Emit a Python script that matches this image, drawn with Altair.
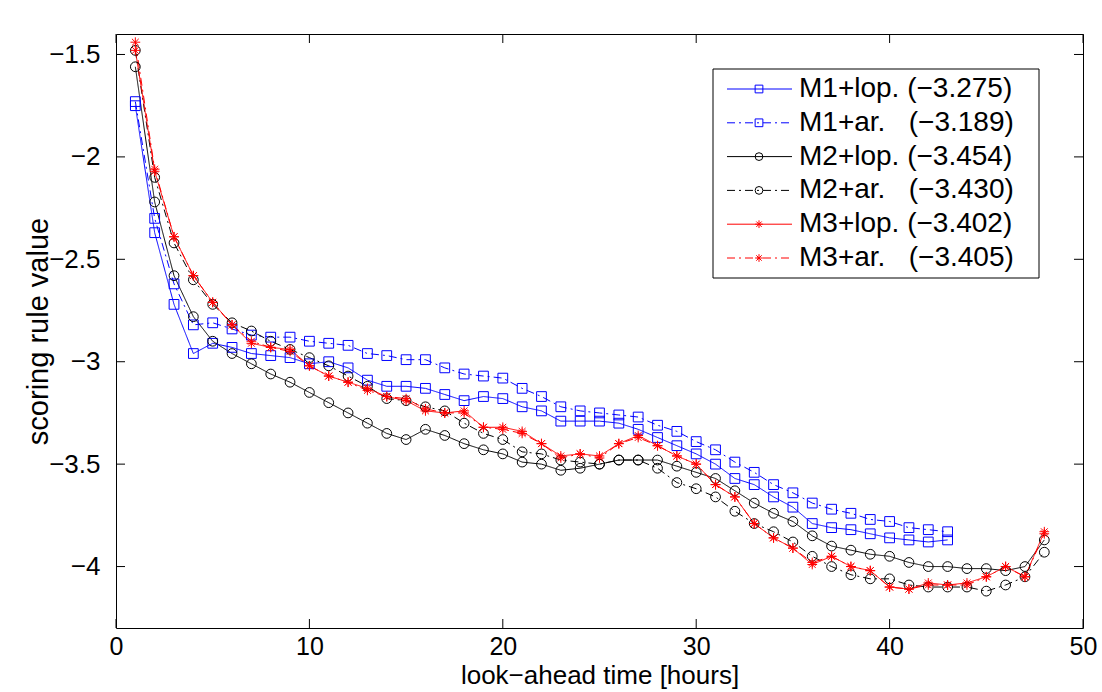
import altair as alt
import pandas as pd

# ---------------- data ----------------
hours_m1 = list(range(1, 44))
hours_m23 = list(range(1, 49))

m1_lop = [-1.75, -2.37, -2.72, -2.96, -2.91, -2.93, -2.96, -2.97, -2.98, -3.01,
          -3.00, -3.03, -3.09, -3.12, -3.12, -3.13, -3.16, -3.19, -3.17, -3.18,
          -3.22, -3.24, -3.29, -3.29, -3.29, -3.30, -3.33, -3.37, -3.41, -3.45,
          -3.50, -3.57, -3.60, -3.66, -3.71, -3.79, -3.81, -3.82, -3.84, -3.86,
          -3.87, -3.88, -3.87]
m1_ar = [-1.73, -2.30, -2.62, -2.82, -2.81, -2.84, -2.87, -2.88, -2.88, -2.90,
         -2.91, -2.92, -2.96, -2.97, -2.99, -2.99, -3.03, -3.06, -3.07, -3.08,
         -3.13, -3.17, -3.22, -3.24, -3.25, -3.26, -3.27, -3.31, -3.34, -3.39,
         -3.43, -3.49, -3.54, -3.60, -3.64, -3.69, -3.72, -3.74, -3.77, -3.78,
         -3.81, -3.82, -3.83]
m2_lop = [-1.56, -2.22, -2.58, -2.78, -2.90, -2.96, -3.01, -3.06, -3.10, -3.15,
          -3.20, -3.25, -3.30, -3.35, -3.38, -3.33, -3.36, -3.40, -3.43, -3.45,
          -3.49, -3.50, -3.53, -3.52, -3.50, -3.48, -3.48, -3.48, -3.51, -3.54,
          -3.57, -3.63, -3.69, -3.74, -3.78, -3.85, -3.90, -3.92, -3.94, -3.95,
          -3.98, -4.00, -4.00, -4.01, -4.01, -4.02, -4.00, -3.87]
m2_ar = [-1.48, -2.10, -2.42, -2.60, -2.72, -2.81, -2.85, -2.90, -2.94, -2.98,
         -3.02, -3.07, -3.12, -3.18, -3.19, -3.22, -3.24, -3.30, -3.35, -3.38,
         -3.44, -3.45, -3.48, -3.49, -3.50, -3.48, -3.48, -3.52, -3.59, -3.62,
         -3.66, -3.73, -3.79, -3.83, -3.88, -3.95, -4.00, -4.04, -4.06, -4.06,
         -4.09, -4.10, -4.10, -4.10, -4.12, -4.09, -4.05, -3.93]
m3_lop = [-1.48, -2.07, -2.39, -2.58, -2.71, -2.82, -2.91, -2.93, -2.94, -3.02,
          -3.07, -3.10, -3.13, -3.17, -3.19, -3.24, -3.25, -3.24, -3.32, -3.32,
          -3.34, -3.40, -3.46, -3.45, -3.46, -3.40, -3.36, -3.41, -3.46, -3.50,
          -3.60, -3.66, -3.79, -3.86, -3.91, -3.99, -3.95, -4.00, -4.02, -4.10,
          -4.11, -4.08, -4.09, -4.08, -4.05, -4.00, -4.05, -3.83]
m3_ar = [-1.44, -2.06, -2.39, -2.58, -2.71, -2.82, -2.90, -2.93, -2.95, -3.02,
         -3.07, -3.10, -3.14, -3.17, -3.18, -3.23, -3.25, -3.25, -3.32, -3.33,
         -3.35, -3.40, -3.47, -3.45, -3.47, -3.40, -3.37, -3.41, -3.46, -3.50,
         -3.60, -3.66, -3.79, -3.86, -3.91, -3.98, -3.95, -4.00, -4.02, -4.10,
         -4.11, -4.09, -4.09, -4.09, -4.05, -4.00, -4.05, -3.84]

series_names = ["M1+lop.", "M1+ar.", "M2+lop.", "M2+ar.", "M3+lop.", "M3+ar."]
series_scores = [-3.275, -3.189, -3.454, -3.430, -3.402, -3.405]
x_tick_values = [0, 10, 20, 30, 40, 50]
y_tick_values = [-4, -3.5, -3, -2.5, -2, -1.5]

# ---------------- styles ----------------
FONT = "Liberation Sans"
W, H = 967, 594
STAR = "M0,-1L0,1M-1,0L1,0M-0.7,-0.7L0.7,0.7M-0.7,0.7L0.7,-0.7"
series_colors = ["#0000ff", "#0000ff", "#000000", "#000000", "#ff0000", "#ff0000"]
series_shapes = ["square", "square", "circle", "circle", STAR, STAR]
series_dash = [[1, 0], [8, 4, 2, 4], [1, 0], [8, 4, 2, 4], [1, 0], [8, 4, 2, 4]]
series_sizes = [95, 95, 140, 140, 250, 250]

rows = []
for name, hrs, vals in zip(series_names,
                           [hours_m1, hours_m1, hours_m23, hours_m23, hours_m23, hours_m23],
                           [m1_lop, m1_ar, m2_lop, m2_ar, m3_lop, m3_ar]):
    for h, v in zip(hrs, vals):
        rows.append({"series": name, "hour": h, "value": v})
df = pd.DataFrame(rows)

def fmt_label(name, score):
    gap = "\u00a0" if "lop" in name else "\u00a0\u00a0\u00a0"
    return f"{name}{gap}(\u2212{abs(score):.3f})"

leg = pd.DataFrame({
    "series": series_names,
    "label": [fmt_label(n, s) for n, s in zip(series_names, series_scores)],
    "row": list(range(len(series_names))),
})

xscale = alt.Scale(domain=[0, 50], nice=False, zero=False)
yscale = alt.Scale(domain=[-4.3, -1.4], nice=False, zero=False)

color = alt.Color("series:N", scale=alt.Scale(domain=series_names, range=series_colors), legend=None)
shape = alt.Shape("series:N", scale=alt.Scale(domain=series_names, range=series_shapes), legend=None)
dash = alt.StrokeDash("series:N", scale=alt.Scale(domain=series_names, range=series_dash), legend=None)
size = alt.Size("series:N", scale=alt.Scale(domain=series_names, range=series_sizes), legend=None)

x_axis = alt.Axis(values=x_tick_values, format="d", labelFontSize=25, labelPadding=6,
                  labelFlush=False, labelOverlap=False,
                  title="look\u2212ahead time [hours]", titleFontSize=26, titlePadding=3)
y_axis = alt.Axis(values=y_tick_values, labelFontSize=26, labelPadding=16,
                  labelExpr="replace(format(datum.value, '~g'), '-', '\u2212')",
                  labelFlush=False, labelOverlap=False,
                  title="scoring rule value", titleFontSize=29, titleX=-63, titleY=H / 2)

lines = alt.Chart(df).mark_line(strokeWidth=1).encode(
    x=alt.X("hour:Q", scale=xscale, axis=x_axis),
    y=alt.Y("value:Q", scale=yscale, axis=y_axis),
    color=color, strokeDash=dash, detail="series:N", order="hour:Q")

points = alt.Chart(df).mark_point(filled=False, strokeWidth=1, opacity=1).encode(
    x=alt.X("hour:Q", scale=xscale, axis=x_axis),
    y=alt.Y("value:Q", scale=yscale, axis=None),
    color=color, shape=shape, size=size)

xt = pd.DataFrame({"t": x_tick_values})
yt = pd.DataFrame({"t": y_tick_values})
tick_x_b = alt.Chart(xt).mark_rule(color="black", strokeWidth=1).encode(
    x=alt.X("t:Q", scale=xscale, axis=x_axis), y=alt.value(H), y2=alt.value(H - 9))
tick_x_t = alt.Chart(xt).mark_rule(color="black", strokeWidth=1).encode(
    x=alt.X("t:Q", scale=xscale, axis=x_axis), y=alt.value(0), y2=alt.value(9))
tick_y_l = alt.Chart(yt).mark_rule(color="black", strokeWidth=1).encode(
    y=alt.Y("t:Q", scale=yscale, axis=None), x=alt.value(0), x2=alt.value(9))
tick_y_r = alt.Chart(yt).mark_rule(color="black", strokeWidth=1).encode(
    y=alt.Y("t:Q", scale=yscale, axis=None), x=alt.value(W), x2=alt.value(W - 9))

legy = alt.Y("row:Q", scale=alt.Scale(domain=[0, 5], range=[55, 224]), axis=None)
leg_box = alt.Chart(pd.DataFrame({"a": [0]})).mark_rect(fill="white", stroke="black", strokeWidth=1).encode(
    x=alt.value(597), x2=alt.value(923), y=alt.value(35), y2=alt.value(244))
leg_line = alt.Chart(leg).mark_rule(strokeWidth=1).encode(
    x=alt.value(611), x2=alt.value(676), y=legy, color=color, strokeDash=dash)
leg_pt = alt.Chart(leg).mark_point(filled=False, strokeWidth=1, opacity=1).encode(
    x=alt.value(643), y=legy, color=color, shape=shape, size=alt.value(60))
leg_text = alt.Chart(leg).mark_text(align="left", baseline="middle", font=FONT, fontSize=28,
                                    color="black").encode(
    x=alt.value(683), y=legy, text="label:N")

chart = alt.layer(
    lines, points, tick_x_b, tick_x_t, tick_y_l, tick_y_r,
    leg_box, leg_line, leg_pt, leg_text
).resolve_scale(y="independent").properties(
    width=W, height=H,
    padding={"left": 116, "top": 34, "right": 19, "bottom": 64},
    autosize=alt.AutoSizeParams(type="none"),
    background="white",
).configure_view(stroke="black", strokeWidth=1).configure_axis(
    grid=False, domain=False, ticks=False, tickSize=0,
    labelFont=FONT, titleFont=FONT, labelColor="black", titleColor="black",
    titleFontWeight="normal")

chart.save("out.html", embed_options={"renderer": "svg", "actions": False})
